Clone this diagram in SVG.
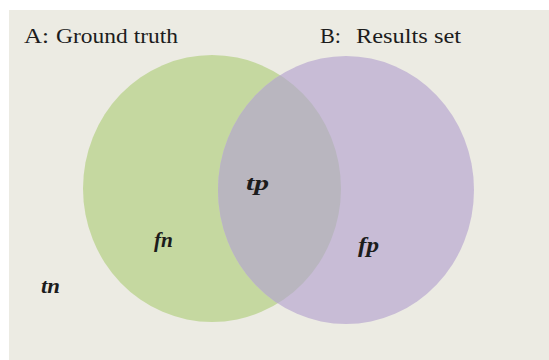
<svg xmlns="http://www.w3.org/2000/svg" width="549" height="360" viewBox="0 0 549 360">
<defs>
<style>
text{font-family:'Liberation Serif','DejaVu Serif',serif;fill:#1c1c1c}
.lbl{font-size:22px}
.it{font-size:21px;font-style:italic;font-weight:bold}
</style>
<clipPath id="clipB"><ellipse cx="346" cy="190" rx="128" ry="134"/></clipPath>
</defs>
<rect x="0" y="0" width="549" height="360" fill="#ffffff"/>
<rect x="9" y="10" width="540" height="350" fill="#ECEBE3"/>
<g id="setA">
<ellipse cx="212" cy="188.5" rx="129" ry="133.5" fill="#C5D8A0"/>
</g>
<g id="setB">
<ellipse cx="346" cy="190" rx="128" ry="134" fill="#C8BCD6"/>
</g>
<g id="overlap">
<ellipse cx="212" cy="188.5" rx="129" ry="133.5" fill="#B9B6BF" clip-path="url(#clipB)"/>
</g>
<g id="connectors"></g>
<g id="labels">
<text class="lbl" x="24" y="43" textLength="25" lengthAdjust="spacingAndGlyphs">A:</text>
<text class="lbl" x="56" y="43" textLength="122" lengthAdjust="spacingAndGlyphs">Ground truth</text>
<text class="lbl" x="320" y="43" textLength="21" lengthAdjust="spacingAndGlyphs">B:</text>
<text class="lbl" x="356" y="43" textLength="105" lengthAdjust="spacingAndGlyphs">Results set</text>
<text class="it" x="246" y="190" textLength="23" lengthAdjust="spacingAndGlyphs">tp</text>
<text class="it" x="154" y="247" textLength="19" lengthAdjust="spacingAndGlyphs">fn</text>
<text class="it" x="358" y="252" textLength="21" lengthAdjust="spacingAndGlyphs">fp</text>
<text class="it" x="41" y="293" textLength="19" lengthAdjust="spacingAndGlyphs">tn</text>
</g>
</svg>
